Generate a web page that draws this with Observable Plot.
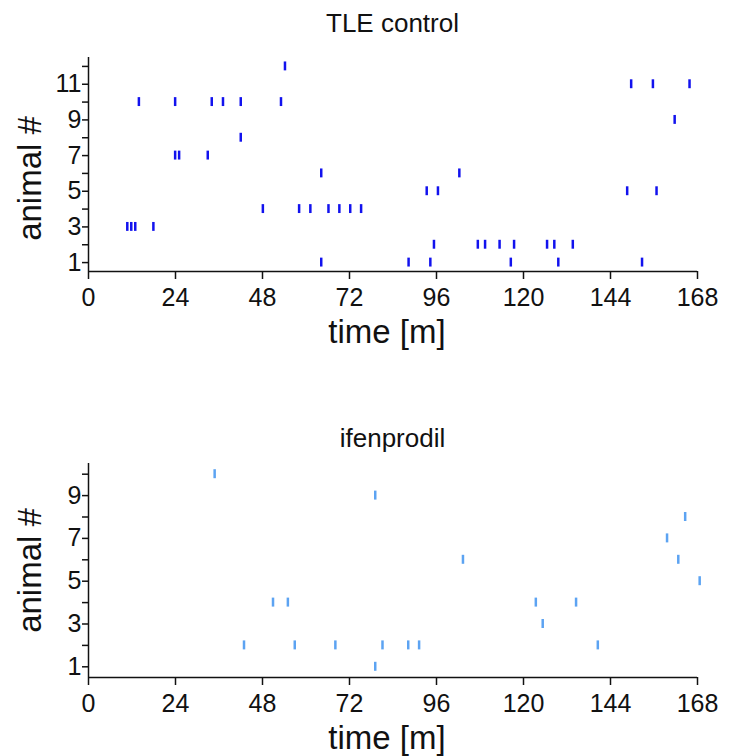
<!DOCTYPE html>
<html><head><meta charset="utf-8">
<script src="https://cdn.jsdelivr.net/npm/d3@7"></script>
<script src="https://cdn.jsdelivr.net/npm/@observablehq/plot@0.6"></script>
<style>
body{margin:0;background:#fff;font-family:"Liberation Sans",Arial,sans-serif;}
#root{position:relative;width:729px;height:756px;overflow:hidden;}
.title{position:absolute;left:88px;width:609px;text-align:center;font-size:26px;color:#111;line-height:1;}
#root svg{position:absolute;left:0;overflow:visible;}
</style></head><body><div id="root"></div>
<script>
// TLE control: event times (minutes) and animal numbers (parallel arrays)
const tleTimes   = [64.2, 88.3, 94.3, 116.5, 129.6, 152.7,
                    95.3, 107.4, 109.4, 113.4, 117.4, 126.5, 128.5, 133.6,
                    10.7, 11.8, 12.9, 17.9,
                    48.1, 58.1, 61.2, 66.2, 69.2, 72.2, 75.2,
                    93.3, 96.4, 148.6, 156.7,
                    64.2, 102.3,
                    23.9, 25.0, 32.9,
                    42.0,
                    161.7,
                    13.9, 23.9, 34.0, 37.1, 42.0, 53.1,
                    149.7, 155.7, 165.8,
                    54.2];
const tleAnimals = [1, 1, 1, 1, 1, 1,
                    2, 2, 2, 2, 2, 2, 2, 2,
                    3, 3, 3, 3,
                    4, 4, 4, 4, 4, 4, 4,
                    5, 5, 5, 5,
                    6, 6,
                    7, 7, 7,
                    8,
                    9,
                    10, 10, 10, 10, 10, 10,
                    11, 11, 11,
                    12];
// ifenprodil
const ifenTimes   = [79.1,
                     42.9, 56.9, 68.1, 81.1, 88.2, 91.2, 140.5,
                     125.3,
                     50.9, 55.0, 123.4, 134.5,
                     168.6,
                     103.3, 162.7,
                     159.6,
                     164.6,
                     79.1,
                     34.8];
const ifenAnimals = [1,
                     2, 2, 2, 2, 2, 2, 2,
                     3,
                     4, 4, 4, 4,
                     5,
                     6, 6,
                     7,
                     8,
                     9,
                     10];
const xTicks = [0, 24, 48, 72, 96, 120, 144, 168];
const tleYTicks = [1,2,3,4,5,6,7,8,9,10,11,12];
const ifenYTicks = [1,2,3,4,5,6,7,8,9,10];
const xLabel = "time [m]";
const yLabel = "animal #";

function chart({times, animals, yTicks, color, halfTick, top, title, titleTop, yLabelShift}) {
  const data = times.map((t, i) => ({t, a: animals[i]}));
  const yMax = yTicks[yTicks.length - 1];
  const svg = Plot.plot({
    width: 729,
    height: 12 + 214 + 80,
    marginTop: 12,
    marginBottom: 80,
    marginLeft: 88,
    marginRight: 32,
    style: {fontFamily: "'Liberation Sans', Arial, sans-serif", fontSize: "24px", color: "#111", background: "transparent", overflow: "visible"},
    x: {domain: [0, 168]},
    y: {domain: [0.5, yMax + 0.5]},
    marks: [
      Plot.axisX(xTicks, {tickSize: 8, tickPadding: 9, strokeWidth: 1.5, fontSize: 25, label: null}),
      Plot.axisY(yTicks, {tickSize: 6, tickPadding: 1, strokeWidth: 1.5, fontSize: 25,
        tickFormat: d => (d % 2 ? String(d) : ""), label: null}),
      Plot.text([xLabel], {text: d => d, frameAnchor: "bottom", textAnchor: "middle", lineAnchor: "bottom", dy: 71, dx: -6, fontSize: 33, fill: "#111"}),
      Plot.text([yLabel], {text: d => d, frameAnchor: "left", rotate: -90, textAnchor: "middle", lineAnchor: "middle", dx: -58, dy: yLabelShift, fontSize: 33, fill: "#111"}),
      Plot.ruleX([0], {y1: 0.5, y2: yMax + 0.5, stroke: "#111", strokeWidth: 1.5}),
      Plot.ruleY([0.5], {x1: 0, x2: 168, stroke: "#111", strokeWidth: 1.5}),
      Plot.ruleX(data, {x: "t", y1: d => d.a - halfTick, y2: d => d.a + halfTick, stroke: color, strokeWidth: 2.5})
    ]
  });
  svg.style.top = top + "px";
  const root = document.getElementById("root");
  root.appendChild(svg);
  const tt = document.createElement("div");
  tt.className = "title";
  tt.style.top = titleTop + "px";
  tt.textContent = title;
  root.appendChild(tt);
}

chart({times: tleTimes, animals: tleAnimals, yTicks: tleYTicks, color: "#1212ee", halfTick: 0.25, top: 45, title: "TLE control", titleTop: 10, yLabelShift: 14});
chart({times: ifenTimes, animals: ifenAnimals, yTicks: ifenYTicks, color: "#5ca3f2", halfTick: 0.21, top: 451, title: "ifenprodil", titleTop: 425, yLabelShift: 0});
</script></body></html>
